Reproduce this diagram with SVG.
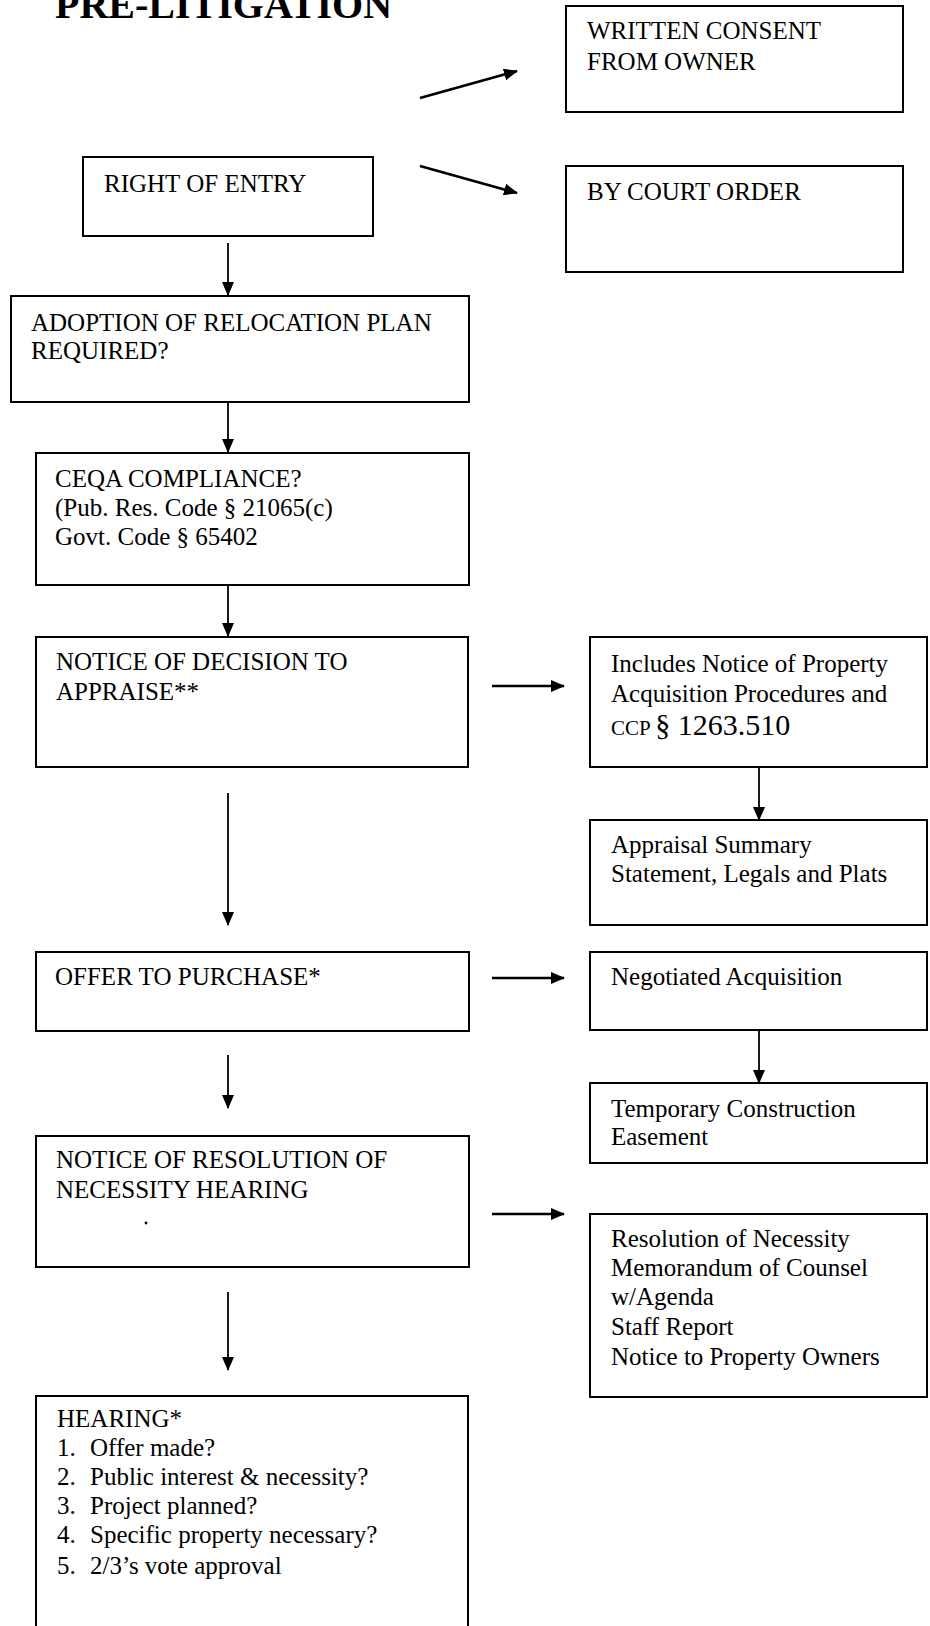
<svg xmlns="http://www.w3.org/2000/svg" width="930" height="1626" viewBox="0 0 930 1626">
<style>
.box{fill:#fff;stroke:#000;stroke-width:2}
.t{font-family:"Liberation Serif","Times New Roman",serif;font-size:25px;fill:#000}
.title{font-family:"Liberation Serif","Times New Roman",serif;font-size:40px;font-weight:bold;fill:#000}
.c{stroke:#000;fill:none}
.v{stroke-width:1.8}
.h{stroke-width:2.6}
.d{stroke-width:2.6}
</style>
<defs>
<marker id="ah" viewBox="0 0 14 12" markerWidth="14" markerHeight="12" refX="13" refY="6" orient="auto" markerUnits="userSpaceOnUse">
<path d="M0,0 L14,6 L0,12 z" fill="#000"/>
</marker>
</defs>
<rect width="930" height="1626" fill="#fff"/>
<text class="title" x="55" y="18">PRE-LITIGATION</text>

<g id="connectors">
<line class="c d" x1="420" y1="98" x2="517" y2="71" marker-end="url(#ah)"/>
<line class="c d" x1="420" y1="166" x2="517" y2="193" marker-end="url(#ah)"/>
<line class="c v" x1="228" y1="243" x2="228" y2="295" marker-end="url(#ah)"/>
<line class="c v" x1="228" y1="402" x2="228" y2="452" marker-end="url(#ah)"/>
<line class="c v" x1="228" y1="585" x2="228" y2="636" marker-end="url(#ah)"/>
<line class="c v" x1="228" y1="793" x2="228" y2="925" marker-end="url(#ah)"/>
<line class="c v" x1="228" y1="1055" x2="228" y2="1108" marker-end="url(#ah)"/>
<line class="c v" x1="228" y1="1292" x2="228" y2="1370" marker-end="url(#ah)"/>
<line class="c v" x1="759" y1="767" x2="759" y2="820" marker-end="url(#ah)"/>
<line class="c v" x1="759" y1="1030" x2="759" y2="1083" marker-end="url(#ah)"/>
<line class="c h" x1="492" y1="686" x2="564" y2="686" marker-end="url(#ah)"/>
<line class="c h" x1="492" y1="978" x2="564" y2="978" marker-end="url(#ah)"/>
<line class="c h" x1="492" y1="1214" x2="564" y2="1214" marker-end="url(#ah)"/>
</g>

<g id="written-consent">
<rect class="box" x="566" y="6" width="337" height="106"/>
<text class="t" x="587" y="39">WRITTEN CONSENT</text>
<text class="t" x="587" y="70">FROM OWNER</text>
</g>
<g id="right-of-entry">
<rect class="box" x="83" y="157" width="290" height="79"/>
<text class="t" x="104" y="192">RIGHT OF ENTRY</text>
</g>
<g id="court-order">
<rect class="box" x="566" y="166" width="337" height="106"/>
<text class="t" x="587" y="200">BY COURT ORDER</text>
</g>
<g id="relocation-plan">
<rect class="box" x="11" y="296" width="458" height="106"/>
<text class="t" x="31" y="331">ADOPTION OF RELOCATION PLAN</text>
<text class="t" x="31" y="359">REQUIRED?</text>
</g>
<g id="ceqa">
<rect class="box" x="36" y="453" width="433" height="132"/>
<text class="t" x="55" y="487">CEQA COMPLIANCE?</text>
<text class="t" x="55" y="516">(Pub. Res. Code § 21065(c)</text>
<text class="t" x="55" y="545">Govt. Code § 65402</text>
</g>
<g id="notice-appraise">
<rect class="box" x="36" y="637" width="432" height="130"/>
<text class="t" x="56" y="670">NOTICE OF DECISION TO</text>
<text class="t" x="56" y="700">APPRAISE**</text>
</g>
<g id="includes-notice">
<rect class="box" x="590" y="637" width="337" height="130"/>
<text class="t" x="611" y="672">Includes Notice of Property</text>
<text class="t" x="611" y="702">Acquisition Procedures and</text>
<text class="t" x="611" y="735"><tspan font-size="21">CCP </tspan><tspan font-size="30">§ 1263.510</tspan></text>
</g>
<g id="appraisal-summary">
<rect class="box" x="590" y="820" width="337" height="105"/>
<text class="t" x="611" y="853">Appraisal Summary</text>
<text class="t" x="611" y="882">Statement, Legals and Plats</text>
</g>
<g id="offer">
<rect class="box" x="36" y="952" width="433" height="79"/>
<text class="t" x="55" y="985">OFFER TO PURCHASE*</text>
</g>
<g id="negotiated">
<rect class="box" x="590" y="952" width="337" height="78"/>
<text class="t" x="611" y="985">Negotiated Acquisition</text>
</g>
<g id="temporary">
<rect class="box" x="590" y="1083" width="337" height="80"/>
<text class="t" x="611" y="1117">Temporary Construction</text>
<text class="t" x="611" y="1145">Easement</text>
</g>
<g id="notice-resolution">
<rect class="box" x="36" y="1136" width="433" height="131"/>
<text class="t" x="56" y="1168">NOTICE OF RESOLUTION OF</text>
<text class="t" x="56" y="1198">NECESSITY HEARING</text>
<circle cx="146" cy="1223" r="1.4" fill="#000"/>
</g>
<g id="resolution-docs">
<rect class="box" x="590" y="1214" width="337" height="183"/>
<text class="t" x="611" y="1247">Resolution of Necessity</text>
<text class="t" x="611" y="1276">Memorandum of Counsel</text>
<text class="t" x="611" y="1305">w/Agenda</text>
<text class="t" x="611" y="1335">Staff Report</text>
<text class="t" x="611" y="1365">Notice to Property Owners</text>
</g>
<g id="hearing">
<rect class="box" x="36" y="1396" width="432" height="260"/>
<text class="t" x="57" y="1427">HEARING*</text>
<text class="t" x="57" y="1456">1.</text><text class="t" x="90" y="1456">Offer made?</text>
<text class="t" x="57" y="1485">2.</text><text class="t" x="90" y="1485">Public interest &amp; necessity?</text>
<text class="t" x="57" y="1514">3.</text><text class="t" x="90" y="1514">Project planned?</text>
<text class="t" x="57" y="1543">4.</text><text class="t" x="90" y="1543">Specific property necessary?</text>
<text class="t" x="57" y="1574">5.</text><text class="t" x="90" y="1574">2/3’s vote approval</text>
</g>
</svg>
